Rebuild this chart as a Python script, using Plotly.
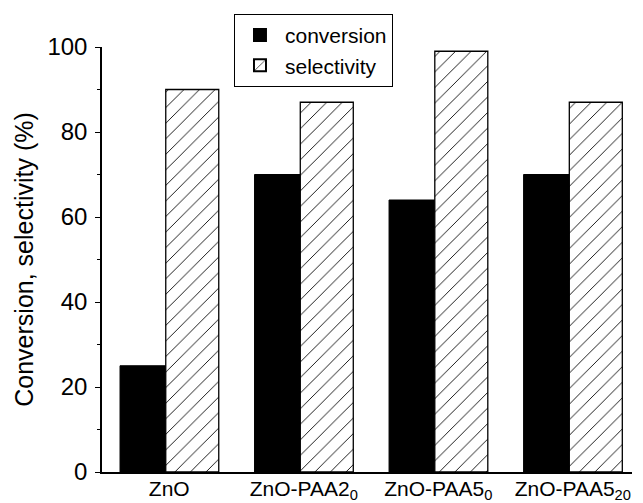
import plotly.graph_objects as go

categories = ["ZnO", "ZnO-PAA2<sub>0</sub>", "ZnO-PAA5<sub>0</sub>", "ZnO-PAA5<sub>20</sub>"]
conversion = [25, 70, 64, 70]
selectivity = [90, 87, 99, 87]
y_ticks = [0, 20, 40, 60, 80, 100]

x = list(range(len(categories)))

fig = go.Figure()
fig.add_trace(go.Bar(
    x=x, y=conversion, name="conversion",
    marker=dict(color="black", line=dict(color="black", width=1)),
    width=0.34, offset=-0.366,
))
fig.add_trace(go.Bar(
    x=x, y=selectivity, name="selectivity",
    marker=dict(color="white", line=dict(color="black", width=1.3),
                pattern=dict(shape="/", fgcolor="black", bgcolor="white",
                             size=11, solidity=0.08, fillmode="replace")),
    width=0.394, offset=-0.026,
))

# page has an 8px body margin, so the figure is sized to fit the window
fig.update_layout(
    width=635, height=495,
    margin=dict(l=94, r=11, t=39, b=31, autoexpand=False),
    plot_bgcolor="white", paper_bgcolor="white",
    font=dict(family="Liberation Sans, Arial, sans-serif", color="black"),
    barmode="overlay",
    showlegend=True,
    legend=dict(x=0.249, y=1.078, xanchor="left", yanchor="top",
                bordercolor="black", borderwidth=1, bgcolor="white",
                font=dict(size=21), tracegroupgap=0, itemwidth=40,
                itemsizing="constant"),
    xaxis=dict(
        tickmode="array", tickvals=x, ticktext=categories,
        range=[-0.5, 3.44], showline=True, linecolor="black", linewidth=1.5,
        ticks="", showgrid=False, zeroline=False, automargin=False,
        tickfont=dict(size=21), ticklabelstandoff=-3,
    ),
    yaxis=dict(
        range=[0, 100], tickvals=y_ticks, showline=True, linecolor="black", linewidth=1.5,
        ticks="outside", ticklen=5, tickwidth=1.2, tickcolor="black",
        minor=dict(dtick=10, ticks="outside", ticklen=3, tickwidth=1, tickcolor="black"),
        showgrid=False, zeroline=False, automargin=False,
        tickfont=dict(size=24), ticklabelstandoff=3,
        title=dict(text="Conversion, selectivity (%)", font=dict(size=25), standoff=7),
    ),
)

fig.write_html("out.html")
